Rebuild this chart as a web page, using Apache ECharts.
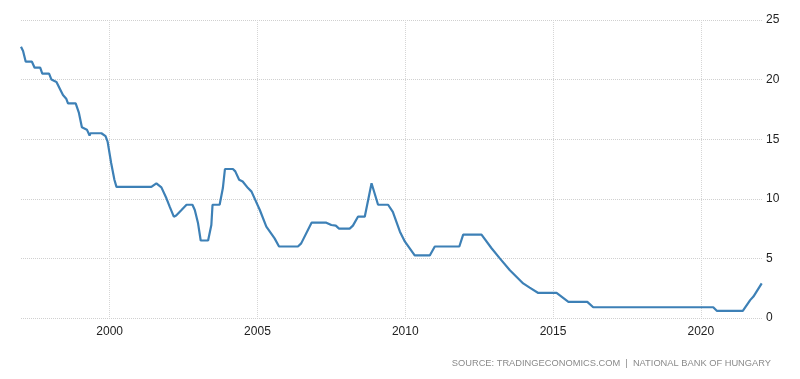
<!DOCTYPE html>
<html>
<head>
<meta charset="utf-8">
<script src="https://cdn.jsdelivr.net/npm/echarts@6/dist/echarts.min.js"></script>
<style>html,body{margin:0;padding:0;background:#fff;}#c{width:800px;height:379px;}</style>
</head>
<body>
<div id="c"></div>
<script>
const yearTicks = [2000, 2005, 2010, 2015, 2020];
const yTicks = [0, 5, 10, 15, 20, 25];
const dates = [1997.0,1997.07,1997.16,1997.37,1997.46,1997.65,1997.72,1997.95,1998.03,1998.2,1998.36,1998.42,1998.53,1998.59,1998.85,1998.96,1999.06,1999.23,1999.32,1999.35,1999.72,1999.86,1999.93,2000.05,2000.16,2000.23,2001.41,2001.58,2001.75,2001.92,2002.03,2002.17,2002.25,2002.43,2002.6,2002.8,2002.88,2002.99,2003.08,2003.33,2003.44,2003.48,2003.72,2003.83,2003.9,2004.17,2004.25,2004.38,2004.5,2004.68,2004.8,2005.08,2005.3,2005.58,2005.73,2006.37,2006.48,2006.83,2007.33,2007.5,2007.65,2007.76,2008.12,2008.23,2008.4,2008.63,2008.86,2009.08,2009.42,2009.58,2009.82,2009.99,2010.32,2010.83,2011.0,2011.83,2011.96,2012.58,2012.92,2013.2,2013.54,2013.99,2014.21,2014.5,2015.12,2015.52,2016.16,2016.36,2020.42,2020.54,2021.42,2021.67,2021.78,2022.06];
const rates = [22.75,22.4,21.5,21.5,21.0,21.0,20.5,20.5,20.0,19.8,19.0,18.7,18.4,18.0,18.0,17.2,16.0,15.8,15.3,15.5,15.5,15.25,14.8,13.0,11.6,11.0,11.0,11.3,10.96,10.04,9.34,8.5,8.6,9.06,9.5,9.5,9.06,7.94,6.5,6.5,7.8,9.5,9.5,10.9,12.5,12.5,12.3,11.6,11.45,10.9,10.6,9.06,7.66,6.68,6.0,6.0,6.26,8.0,8.0,7.8,7.75,7.5,7.5,7.75,8.5,8.5,11.3,9.5,9.5,8.9,7.24,6.4,5.25,5.25,6.0,6.0,7.0,7.0,5.85,5.0,4.0,2.9,2.55,2.1,2.1,1.35,1.35,0.9,0.9,0.6,0.6,1.5,1.8,2.9];
const sourceText = 'SOURCE: TRADINGECONOMICS.COM  |  NATIONAL BANK OF HUNGARY';

const chart = echarts.init(document.getElementById('c'), null, {renderer: 'canvas'});
chart.setOption({
  animation: false,
  backgroundColor: '#fff',
  grid: {left: 21, right: 38, top: 20, bottom: 61, containLabel: false},
  xAxis: {
    type: 'value',
    min: 1997.0,
    max: 2022.07,
    axisLine: {show: false},
    axisTick: {show: false, customValues: yearTicks},
    axisLabel: {customValues: yearTicks, formatter: v => String(v), color: '#222', fontSize: 12, margin: 8, fontFamily: 'Liberation Sans, Arial, sans-serif'},
    splitLine: {show: true, lineStyle: {color: '#d6d6d6', type: 'dotted', width: 1}}
  },
  yAxis: {
    type: 'value',
    position: 'right',
    min: 0, max: 25, interval: 5,
    axisLine: {show: false},
    axisTick: {show: false},
    axisLabel: {color: '#222', fontSize: 12, margin: 4, fontFamily: 'Liberation Sans, Arial, sans-serif'},
    splitLine: {show: true, lineStyle: {color: '#d0d0d0', type: 'dotted', width: 1}}
  },
  graphic: [{
    type: 'text', right: 29, top: 359,
    style: {text: sourceText, fill: '#8a8a8a', fontSize: 9.3, fontFamily: 'Liberation Sans, Arial, sans-serif'}
  }],
  series: [{
    type: 'line',
    data: dates.map((d, i) => [d, rates[i]]),
    showSymbol: false,
    lineStyle: {color: '#3d80b6', width: 2.2},
    itemStyle: {color: '#3d80b6'}
  }]
});
</script>
</body>
</html>
